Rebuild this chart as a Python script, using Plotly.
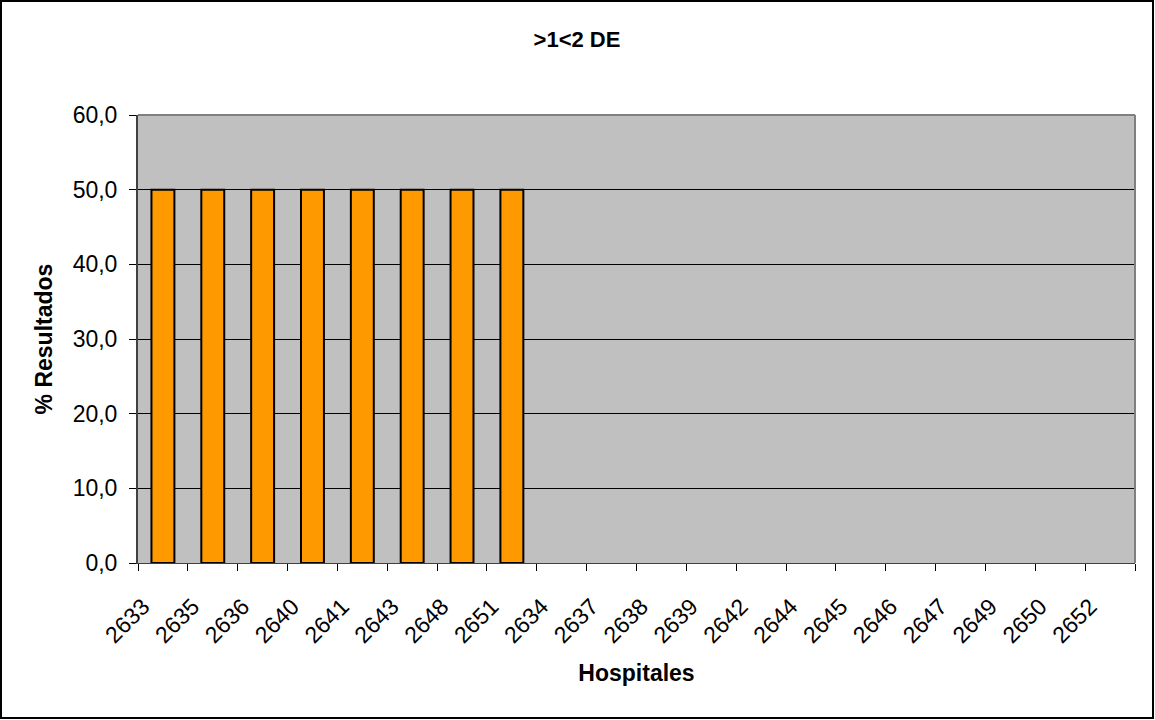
import plotly.graph_objects as go

categories = ["2633", "2635", "2636", "2640", "2641", "2643", "2648", "2651", "2634", "2637",
              "2638", "2639", "2642", "2644", "2645", "2646", "2647", "2649", "2650", "2652"]
values = [50.0, 50.0, 50.0, 50.0, 50.0, 50.0, 50.0, 50.0, None, None,
          None, None, None, None, None, None, None, None, None, None]
y_ticks = [0, 10, 20, 30, 40, 50, 60]

W, H = 1155, 720
L, R, T, B = 138, 20, 115, 157
pw, ph = W - L - R, H - T - B

fig = go.Figure()
fig.add_trace(go.Bar(
    x=categories, y=values,
    marker=dict(color="#FF9900", line=dict(color="#000000", width=2)),
    width=0.46,
))

fig.update_layout(
    width=W, height=H,
    margin=dict(l=L, r=R, t=T, b=B),
    paper_bgcolor="white",
    plot_bgcolor="#C0C0C0",
    separators=",.",
    font=dict(family="Liberation Sans, Arial", color="black"),
    showlegend=False,
    title=dict(text="<b>&gt;1&lt;2 DE</b>", x=577 / W, xanchor="center",
               y=1 - 39 / H, yanchor="middle", font=dict(size=22)),
    xaxis=dict(
        type="category", tickangle=-45, tickfont=dict(size=23),
        ticks="outside", ticklen=7, tickcolor="black", tickson="boundaries",
        ticklabelstandoff=20, ticklabelshift=-20,
        showgrid=False, showline=True, linecolor="#404040", linewidth=1,
        range=[-0.5, len(categories) - 0.5],
        title=dict(text="<b>Hospitales</b>", font=dict(size=23), standoff=17),
    ),
    yaxis=dict(
        range=[0, 60], tickvals=y_ticks, tickformat=".1f", tickfont=dict(size=23),
        ticks="outside", ticklen=7, tickcolor="black", ticklabelstandoff=7,
        showgrid=True, gridcolor="#000000", gridwidth=1,
        showline=True, linecolor="#404040", linewidth=2,
        zeroline=False,
        title=dict(text="<b>% Resultados</b>", font=dict(size=23), standoff=14),
    ),
)

# plot area border (top/right gray)
fig.add_shape(type="line", xref="paper", yref="paper", x0=0, x1=1, y0=1, y1=1,
              line=dict(color="#808080", width=2), layer="above")
fig.add_shape(type="line", xref="paper", yref="paper", x0=1, x1=1, y0=0, y1=1,
              line=dict(color="#808080", width=2), layer="above")
# outer chart border
fig.add_shape(type="rect", xref="paper", yref="paper",
              x0=(1 - L) / pw, x1=(W - 2 - L) / pw,
              y0=(H - 718 - B) / ph, y1=(H - 1 - B) / ph,
              line=dict(color="black", width=2))

fig.write_html("out.html", config={"displayModeBar": False},
               post_script="document.body.style.margin='0';document.body.style.padding='0';")
